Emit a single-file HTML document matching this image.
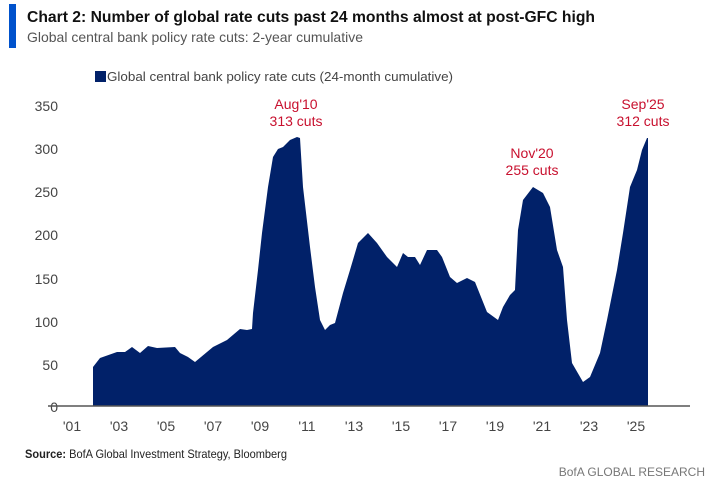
<!DOCTYPE html><html><head><style>
body{margin:0;background:#fff;width:721px;height:481px;overflow:hidden;font-family:"Liberation Sans",sans-serif}
</style></head><body>
<svg width="721" height="481" xmlns="http://www.w3.org/2000/svg" font-family="Liberation Sans, sans-serif">
<rect x="9" y="4" width="7" height="44" fill="#0052cc"/>
<text x="27" y="22" font-size="15.5" font-weight="bold" fill="#111" textLength="568" lengthAdjust="spacingAndGlyphs">Chart 2: Number of global rate cuts past 24 months almost at post-GFC high</text>
<text x="27" y="42" font-size="14" fill="#555" textLength="336" lengthAdjust="spacingAndGlyphs">Global central bank policy rate cuts: 2-year cumulative</text>
<rect x="95" y="71" width="11" height="11" fill="#012169"/>
<text x="107" y="81" font-size="13" fill="#444" textLength="346" lengthAdjust="spacingAndGlyphs">Global central bank policy rate cuts (24-month cumulative)</text>
<g font-size="14" fill="#444" text-anchor="end">
<text x="58" y="111">350</text><text x="58" y="154">300</text><text x="58" y="197">250</text><text x="58" y="240">200</text><text x="58" y="284">150</text><text x="58" y="327">100</text><text x="58" y="370">50</text><text x="58" y="412">0</text>
</g>
<path fill="#012169" d="M93,406 L93,367 L100,358 L117,352 L125,352 L132,347 L140,353 L148,346 L157,348 L175,347 L180,353 L188,357 L195,362 L213,347 L227,340 L240,329 L247,330 L252,329 L253,313 L258,270 L262,233 L268,187 L273,157 L278,149 L283,147 L290,140 L297,137 L300,138 L303,187 L310,247 L315,287 L320,320 L325,330 L330,325 L335,323 L343,293 L350,270 L358,243 L368,233 L377,243 L387,257 L397,267 L403,253 L408,257 L415,257 L420,265 L427,250 L437,250 L442,257 L450,277 L457,283 L467,278 L475,282 L487,312 L498,320 L503,307 L510,295 L515,290 L518,230 L523,200 L533,187 L543,193 L550,207 L557,250 L563,267 L567,320 L572,363 L583,382 L590,377 L600,353 L607,320 L617,270 L623,233 L630,187 L637,170 L642,150 L647,138 L648,138 L648,406 Z"/>
<line x1="48" y1="406" x2="690" y2="406" stroke="#555" stroke-width="1.5"/>
<g font-size="14" fill="#444" text-anchor="middle">
<text x="72" y="431">'01</text><text x="119" y="431">'03</text><text x="166" y="431">'05</text><text x="213" y="431">'07</text><text x="260" y="431">'09</text><text x="307" y="431">'11</text><text x="354" y="431">'13</text><text x="401" y="431">'15</text><text x="448" y="431">'17</text><text x="495" y="431">'19</text><text x="542" y="431">'21</text><text x="589" y="431">'23</text><text x="636" y="431">'25</text>
</g>
<g font-size="14" fill="#c8102e" text-anchor="middle">
<text x="296" y="109">Aug'10</text><text x="296" y="126">313 cuts</text>
<text x="532" y="158">Nov'20</text><text x="532" y="175">255 cuts</text>
<text x="643" y="109">Sep'25</text><text x="643" y="126">312 cuts</text>
</g>
<text x="25" y="458" font-size="12" fill="#222" textLength="262" lengthAdjust="spacingAndGlyphs"><tspan font-weight="bold">Source:</tspan> BofA Global Investment Strategy, Bloomberg</text>
<text x="705" y="476" font-size="12" fill="#777" text-anchor="end">BofA GLOBAL RESEARCH</text>
</svg>
</body></html>
